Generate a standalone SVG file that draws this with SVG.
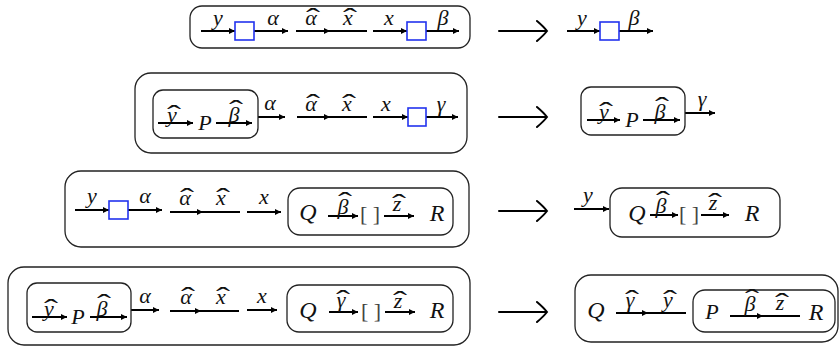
<svg xmlns="http://www.w3.org/2000/svg" width="839" height="350" viewBox="0 0 839 350">
<style>
.t{font-family:"Liberation Serif","DejaVu Serif",serif;font-style:italic;font-size:22px;fill:#111;text-anchor:middle}
.big{font-size:24px}
.up{font-family:"Liberation Serif","DejaVu Serif",serif;font-size:22px;fill:#444;text-anchor:middle}
.hat{font-family:"Liberation Serif","DejaVu Serif",serif;font-size:20px;fill:#111;text-anchor:middle}
.ln{stroke:#000;stroke-width:2;fill:none;marker-end:url(#ah)}
.mid{stroke:#000;stroke-width:2;fill:none;marker-mid:url(#ah)}
.bx{fill:none;stroke:#222;stroke-width:1.3}
.blue{fill:#fff;stroke:#2233ee;stroke-width:1.6}
.la{stroke:#000;stroke-width:2;fill:none;stroke-linecap:round}
</style>
<defs>
<marker id="ah" viewBox="0 0 10 10" refX="10" refY="5" markerWidth="9" markerHeight="6" markerUnits="userSpaceOnUse" orient="auto"><path d="M0,0 L10,5 L0,10 z" fill="#000"/></marker>
</defs>

<g id="connectors">
<!-- row 1 -->
<line class="ln" x1="201" y1="31" x2="235" y2="31"/>
<line class="ln" x1="254" y1="31" x2="288" y2="31"/>
<path class="mid" d="M296,31 L330,31 L367,31"/>
<line class="ln" x1="373" y1="31" x2="407" y2="31"/>
<line class="ln" x1="426" y1="31" x2="459" y2="31"/>
<line class="ln" x1="567" y1="31" x2="600" y2="31"/>
<line class="ln" x1="619" y1="31" x2="653" y2="31"/>
<!-- row 2 -->
<line class="ln" x1="158" y1="123" x2="193" y2="123"/>
<line class="ln" x1="216" y1="123" x2="252" y2="123"/>
<line class="ln" x1="258" y1="117" x2="285" y2="117"/>
<path class="mid" d="M297,117 L330,117 L367,117"/>
<line class="ln" x1="373" y1="117" x2="408" y2="117"/>
<line class="ln" x1="426" y1="117" x2="458" y2="117"/>
<line class="ln" x1="587" y1="120" x2="620" y2="120"/>
<line class="ln" x1="643" y1="120" x2="680" y2="120"/>
<line class="ln" x1="685" y1="113" x2="715" y2="113"/>
<!-- row 3 -->
<line class="ln" x1="75" y1="210" x2="109" y2="210"/>
<line class="ln" x1="128" y1="210" x2="162" y2="210"/>
<path class="mid" d="M170,212 L203,212 L240,212"/>
<line class="ln" x1="247" y1="212" x2="281" y2="212"/>
<line class="ln" x1="328" y1="216" x2="358" y2="216"/>
<line class="ln" x1="384" y1="216" x2="414" y2="216"/>
<line class="ln" x1="574" y1="209" x2="609" y2="209"/>
<line class="ln" x1="650" y1="215" x2="678" y2="215"/>
<line class="ln" x1="701" y1="215" x2="729" y2="215"/>
<!-- row 4 -->
<line class="ln" x1="32" y1="317" x2="67" y2="317"/>
<line class="ln" x1="90" y1="317" x2="127" y2="317"/>
<line class="ln" x1="131" y1="310" x2="159" y2="310"/>
<path class="mid" d="M170,311 L201,311 L239,311"/>
<line class="ln" x1="247" y1="310" x2="277" y2="310"/>
<line class="ln" x1="329" y1="312" x2="358" y2="312"/>
<line class="ln" x1="385" y1="312" x2="415" y2="312"/>
<path class="mid" d="M616,313 L648,313 L686,313"/>
<path class="mid" d="M730,316 L763,316 L800,316"/>
<!-- long arrows -->
<path class="la" d="M499,31 H546 M537,21 Q544,27 547,31 Q544,35 537,41"/>
<path class="la" d="M499,117 H546 M537,107 Q544,113 547,117 Q544,121 537,127"/>
<path class="la" d="M499,211 H546 M537,201 Q544,207 547,211 Q544,215 537,221"/>
<path class="la" d="M499,312 H546 M537,302 Q544,308 547,312 Q544,316 537,322"/>
</g>

<g id="row1-left">
<rect class="bx" x="190" y="6" width="280" height="42" rx="12"/>
<rect class="blue" x="235" y="22" width="19" height="18"/>
<rect class="blue" x="407" y="22" width="19" height="18"/>
<text class="t" x="218" y="25">y</text>
<text class="t" x="273" y="25">α</text>
<text class="t" x="311" y="25">α</text><text class="hat" transform="translate(313,25) scale(2.1,1.4)" y="1.6">ˆ</text>
<text class="t" x="348" y="25">x</text><text class="hat" transform="translate(350,25) scale(2.1,1.4)" y="1.6">ˆ</text>
<text class="t" x="389" y="25">x</text>
<text class="t" x="443" y="25">β</text>
</g>
<g id="row1-right">
<rect class="blue" x="600" y="22" width="19" height="18"/>
<text class="t" x="582" y="25">y</text>
<text class="t" x="634" y="25">β</text>
</g>

<g id="row2-left">
<rect class="bx" x="135" y="73" width="332" height="80" rx="16"/>
<rect class="bx" x="153" y="90" width="105" height="48" rx="10"/>
<text class="t" x="172" y="122">y</text><text class="hat" transform="translate(174,122) scale(2.1,1.4)" y="1.6">ˆ</text>
<text class="t" x="205" y="130">P</text>
<text class="t" x="234" y="122">β</text><text class="hat" transform="translate(236,122) scale(2.1,1.4)" y="-1.9">ˆ</text>
<text class="t" x="270" y="110">α</text>
<text class="t" x="311" y="111">α</text><text class="hat" transform="translate(313,111) scale(2.1,1.4)" y="1.6">ˆ</text>
<text class="t" x="347" y="111">x</text><text class="hat" transform="translate(349,111) scale(2.1,1.4)" y="1.6">ˆ</text>
<text class="t" x="386" y="111">x</text>
<rect class="blue" x="408" y="108" width="18" height="18"/>
<text class="t" x="441" y="111">γ</text>
</g>
<g id="row2-right">
<rect class="bx" x="581" y="87" width="104" height="48" rx="10"/>
<text class="t" x="604" y="119">y</text><text class="hat" transform="translate(606,119) scale(2.1,1.4)" y="1.6">ˆ</text>
<text class="t" x="632" y="127">P</text>
<text class="t" x="660" y="119">β</text><text class="hat" transform="translate(662,119) scale(2.1,1.4)" y="-1.9">ˆ</text>
<text class="t" x="702" y="106">γ</text>
</g>

<g id="row3-left">
<rect class="bx" x="65" y="171" width="404" height="76" rx="16"/>
<rect class="blue" x="109" y="201" width="19" height="18"/>
<text class="t" x="92" y="203">y</text>
<text class="t" x="145" y="203">α</text>
<text class="t" x="185" y="205">α</text><text class="hat" transform="translate(187,205) scale(2.1,1.4)" y="1.6">ˆ</text>
<text class="t" x="221" y="205">x</text><text class="hat" transform="translate(223,205) scale(2.1,1.4)" y="1.6">ˆ</text>
<text class="t" x="264" y="204">x</text>
<rect class="bx" x="288" y="188" width="165" height="47" rx="12"/>
<text class="t big" x="308" y="220">Q</text>
<text class="t" x="343" y="214">β</text><text class="hat" transform="translate(345,214) scale(2.1,1.4)" y="-1.9">ˆ</text>
<text class="up" x="370" y="221">[ ]</text>
<text class="t" x="397" y="211">z</text><text class="hat" transform="translate(399,211) scale(2.1,1.4)" y="1.6">ˆ</text>
<text class="t big" x="437" y="221">R</text>
</g>
<g id="row3-right">
<text class="t" x="588" y="202">y</text>
<rect class="bx" x="610" y="188" width="170" height="49" rx="12"/>
<text class="t big" x="637" y="221">Q</text>
<text class="t" x="661" y="213">β</text><text class="hat" transform="translate(663,213) scale(2.1,1.4)" y="-1.9">ˆ</text>
<text class="up" x="689" y="221">[ ]</text>
<text class="t" x="713" y="210">z</text><text class="hat" transform="translate(715,210) scale(2.1,1.4)" y="1.6">ˆ</text>
<text class="t big" x="752" y="221">R</text>
</g>

<g id="row4-left">
<rect class="bx" x="8" y="267" width="462" height="78" rx="16"/>
<rect class="bx" x="27" y="283" width="104" height="49" rx="10"/>
<text class="t" x="49" y="316">y</text><text class="hat" transform="translate(51,316) scale(2.1,1.4)" y="1.6">ˆ</text>
<text class="t" x="78" y="324">P</text>
<text class="t" x="102" y="316">β</text><text class="hat" transform="translate(104,316) scale(2.1,1.4)" y="-1.9">ˆ</text>
<text class="t" x="145" y="303">α</text>
<text class="t" x="186" y="304">α</text><text class="hat" transform="translate(188,304) scale(2.1,1.4)" y="1.6">ˆ</text>
<text class="t" x="221" y="304">x</text><text class="hat" transform="translate(223,304) scale(2.1,1.4)" y="1.6">ˆ</text>
<text class="t" x="262" y="303">x</text>
<rect class="bx" x="287" y="285" width="166" height="47" rx="12"/>
<text class="t big" x="308" y="318">Q</text>
<text class="t" x="341" y="307">γ</text><text class="hat" transform="translate(343,307) scale(2.1,1.4)" y="1.6">ˆ</text>
<text class="up" x="371" y="318">[ ]</text>
<text class="t" x="398" y="308">z</text><text class="hat" transform="translate(400,308) scale(2.1,1.4)" y="1.6">ˆ</text>
<text class="t big" x="437" y="318">R</text>
</g>
<g id="row4-right">
<rect class="bx" x="575" y="275" width="263" height="67" rx="16"/>
<text class="t big" x="596" y="318">Q</text>
<text class="t" x="630" y="307">γ</text><text class="hat" transform="translate(632,307) scale(2.1,1.4)" y="1.6">ˆ</text>
<text class="t" x="668" y="307">y</text><text class="hat" transform="translate(670,307) scale(2.1,1.4)" y="1.6">ˆ</text>
<rect class="bx" x="693" y="290" width="142" height="42" rx="12"/>
<text class="t" x="712" y="319">P</text>
<text class="t" x="750" y="311">β</text><text class="hat" transform="translate(752,311) scale(2.1,1.4)" y="-1.9">ˆ</text>
<text class="t" x="780" y="310">z</text><text class="hat" transform="translate(782,310) scale(2.1,1.4)" y="1.6">ˆ</text>
<text class="t big" x="816" y="320">R</text>
</g>
</svg>
